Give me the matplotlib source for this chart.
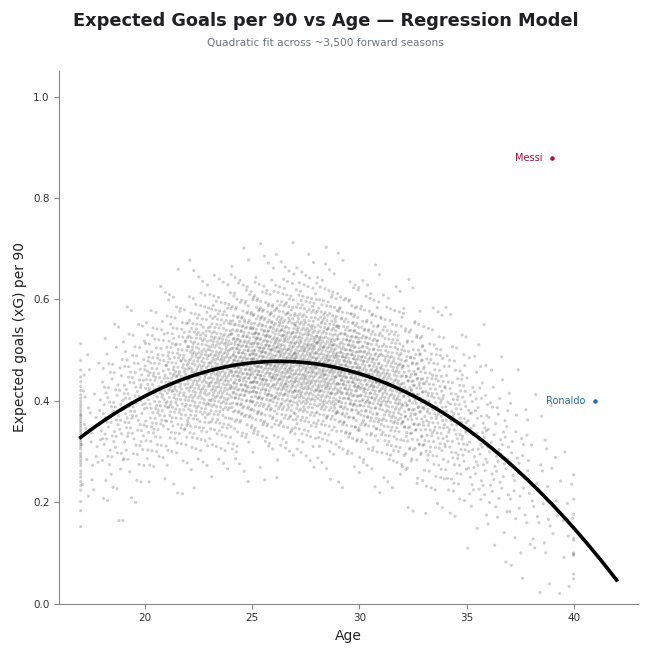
import numpy as np
import matplotlib
matplotlib.use("Agg")
import matplotlib.pyplot as plt
from statistics import NormalDist

# per-age-bin summary of the forward seasons
bin_ages = [17, 18, 19, 20, 21, 22, 23, 24, 25, 26, 27, 28,
            29, 30, 31, 32, 33, 34, 35, 36, 37, 38, 39]
bin_counts = [30, 70, 90, 120, 160, 200, 230, 260, 280, 290, 290, 280,
              260, 230, 200, 170, 130, 100, 70, 50, 35, 25, 15]
bin_centers = [0.343, 0.372, 0.397, 0.419, 0.438, 0.453, 0.464, 0.472,
               0.477, 0.478, 0.475, 0.470, 0.460, 0.447, 0.431, 0.411,
               0.388, 0.360, 0.330, 0.296, 0.258, 0.217, 0.173]
bin_spread = [0.085, 0.085, 0.083, 0.082, 0.081, 0.08, 0.08, 0.08,
              0.08, 0.08, 0.08, 0.08, 0.08, 0.08, 0.081, 0.083,
              0.085, 0.087, 0.09, 0.092, 0.095, 0.095, 0.095]

# seasons sitting on the age limits (17 and 40)
edge_ages = [17, 40]
edge_counts = [45, 10]
edge_centers = [0.33, 0.15]
edge_spread = [0.08, 0.07]

players = ["Messi", "Ronaldo"]
player_age = [39, 41]
player_xg = [0.88, 0.40]
player_colors = ["#a3123e", "#2a6fa8"]

nd = NormalDist()


def halton(k, base):
    # van der Corput radical inverse, used to spread points inside a bin
    out = np.zeros(len(k))
    f = 1.0 / base
    k = k.copy()
    while np.any(k > 0):
        out += f * (k % base)
        k //= base
        f /= base
    return out


ages, xg = [], []
start = 17
for a, n, mu, sd in zip(bin_ages, bin_counts, bin_centers, bin_spread):
    k = np.arange(start, start + n)
    u = halton(k, 5)
    v = np.clip(halton(k, 7), 0.5 / n, 1 - 0.5 / n)
    ages.append(a + u)
    xg.append(mu + sd * np.array([nd.inv_cdf(t) for t in v]))
    start += n
for a, n, mu, sd in zip(edge_ages, edge_counts, edge_centers, edge_spread):
    k = np.arange(start, start + n)
    v = np.clip(halton(k, 7), 0.5 / n, 1 - 0.5 / n)
    ages.append(np.full(n, float(a)))
    xg.append(mu + sd * np.array([nd.inv_cdf(t) for t in v]))
    start += n
ages = np.concatenate(ages)
xg = np.clip(np.concatenate(xg), 0.02, None)

coef = np.polyfit(ages, xg, 2)
grid = np.linspace(17, 42, 200)

fig = plt.figure(figsize=(6.51, 6.49), dpi=100)
ax = fig.add_axes([0.091, 0.07, 0.889, 0.82])

ax.scatter(ages, xg, s=5, c="#444444", alpha=0.26, edgecolors="none")
ax.plot(grid, np.polyval(coef, grid), color="black", lw=2.6)

for name, a, v, c in zip(players, player_age, player_xg, player_colors):
    ax.scatter([a], [v], s=5, color=c, zorder=3)
    ax.text(a - 0.45, v, name, color=c, fontsize=7, ha="right", va="center")

ax.set_xlim(16, 43)
ax.set_ylim(0, 1.05)
ax.set_xticks([20, 25, 30, 35, 40])
ax.set_yticks([0.0, 0.2, 0.4, 0.6, 0.8, 1.0])
ax.set_xlabel("Age", fontsize=10, color="#222222")
ax.set_ylabel("Expected goals (xG) per 90", fontsize=10, color="#222222")
ax.tick_params(labelsize=7.5, colors="#333333", color="#888888")
for s in ["top", "right"]:
    ax.spines[s].set_visible(False)
for s in ["left", "bottom"]:
    ax.spines[s].set_color("#888888")

fig.text(0.5, 0.968, "Expected Goals per 90 vs Age — Regression Model",
         ha="center", va="center", fontsize=12.8, fontweight="bold", color="#1f1f24")
fig.text(0.5, 0.933, "Quadratic fit across ~3,500 forward seasons",
         ha="center", va="center", fontsize=7.6, color="#6b7280")

fig.savefig("out.png", dpi=100)
